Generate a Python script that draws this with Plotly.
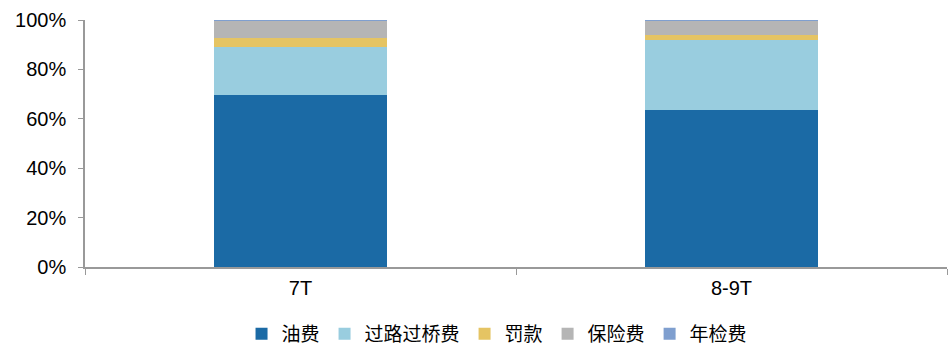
import plotly.graph_objects as go

categories = ["7T", "8-9T"]
series_names = ["油费", "过路过桥费", "罚款", "保险费", "年检费"]
fuel = [69.6, 63.6]
tolls = [19.6, 28.3]
fines = [3.4, 2.0]
insurance = [7.0, 6.0]
inspection = [0.4, 0.1]
tick_vals = [0, 20, 40, 60, 80, 100]
tick_text = ["0%", "20%", "40%", "60%", "80%", "100%"]

colors = ["#1B6AA5", "#99CDDF", "#E5C463", "#B5B5B5", "#7F9FCF"]
series_values = [fuel, tolls, fines, insurance, inspection]

fig = go.Figure()
for name, vals, col in zip(series_names, series_values, colors):
    fig.add_trace(go.Bar(
        x=categories, y=vals, name=name,
        marker=dict(color=col, line=dict(width=0)),
    ))

fig.update_layout(
    barmode="stack",
    bargap=0.6,
    width=952, height=353,
    margin=dict(l=85, r=5, t=20, b=86, autoexpand=False),
    plot_bgcolor="white",
    paper_bgcolor="white",
    font=dict(family="Liberation Sans, Arial, sans-serif", size=20, color="#000000"),
    showlegend=True,
    legend=dict(
        orientation="h", x=0.478, xanchor="center",
        yref="container", y=-0.02, yanchor="bottom",
        font=dict(family="Noto Sans CJK SC", size=19),
        traceorder="normal", itemwidth=30,
    ),
    xaxis=dict(
        showline=True, linecolor="#999999", linewidth=1.5,
        ticks="outside", tickson="boundaries", ticklen=6, tickcolor="#999999",
        showgrid=False, ticklabelstandoff=2,
    ),
    yaxis=dict(
        range=[0, 100], tickvals=tick_vals, ticktext=tick_text,
        showline=True, linecolor="#999999", linewidth=1.5,
        ticks="outside", ticklen=5, tickcolor="#999999",
        showgrid=False, zeroline=False, ticklabelstandoff=8,
    ),
)

fig.write_html("out.html")
